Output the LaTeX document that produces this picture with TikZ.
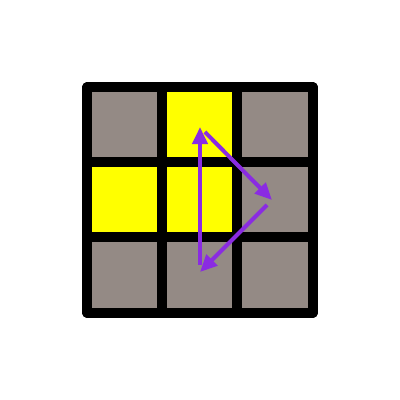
\documentclass[tikz,border=0pt]{standalone}
\usetikzlibrary{arrows.meta}
\definecolor{facegray}{RGB}{148,138,133}
\definecolor{faceyellow}{RGB}{255,255,0}
\definecolor{movepurple}{RGB}{138,43,226}
\begin{document}
\begin{tikzpicture}[
  x=0.01cm, y=-0.01cm,
  cell/.style={draw=black, line width=0.1cm, line join=round, minimum size=0.75cm, inner sep=0pt, outer sep=0pt, fill=facegray},
  lit/.style={cell, fill=faceyellow},
  arrow/.style={-{Triangle[length=0.17cm, width=0.15cm]}, draw=movepurple, line width=0.04cm, shorten <=2pt}
]
\useasboundingbox (0,0) rectangle (400,400);

% face stickers
\node[cell] (tl) at (125,125) {};
\node[lit]  (tm) at (200,125) {};
\node[cell] (tr) at (275,125) {};
\node[lit]  (ml) at (125,200) {};
\node[lit]  (mm) at (200,200) {};
\node[cell] (mr) at (275,200) {};
\node[cell] (bl) at (125,275) {};
\node[cell] (bm) at (200,275) {};
\node[cell] (br) at (275,275) {};
\draw[line width=0.1cm, line join=round] (tl.north west) rectangle (br.south east);

% cycle
\coordinate (top) at (200,127);
\coordinate (right) at (272,200);
\coordinate (bottom) at (200,272);
\draw[arrow] (top) -- (right);
\draw[arrow] (right) -- (bottom);
\draw[arrow] (bottom) -- (top);
\end{tikzpicture}
\end{document}
